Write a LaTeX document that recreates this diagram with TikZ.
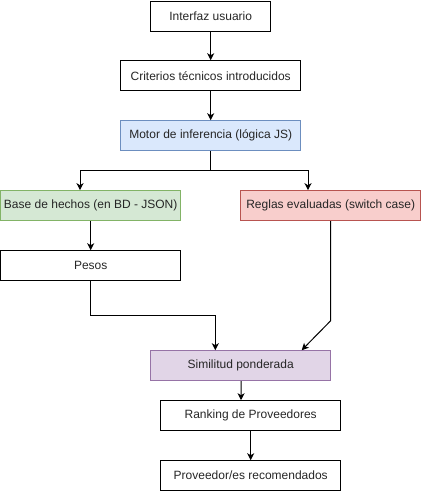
\documentclass[tikz,border=0pt]{standalone}
\usepackage{fontspec}
\setmainfont{Liberation Sans}
\usetikzlibrary{arrows.meta,calc}
\definecolor{bluef}{HTML}{DAE8FC}
\definecolor{blued}{HTML}{6C8EBF}
\definecolor{greenf}{HTML}{D5E8D4}
\definecolor{greend}{HTML}{82B366}
\definecolor{redf}{HTML}{F8CECC}
\definecolor{redd}{HTML}{B85450}
\definecolor{purplef}{HTML}{E1D5E7}
\definecolor{purpled}{HTML}{9673A6}
\begin{document}
\begin{tikzpicture}[x=1pt,y=-1pt,
  box/.style={draw, line width=1pt, minimum height=30pt, minimum width=180pt, inner sep=0pt,
    font=\fontsize{12}{14}\selectfont, text=black!85},
  bluebox/.style={box, fill=bluef, draw=blued},
  greenbox/.style={box, fill=greenf, draw=greend},
  redbox/.style={box, fill=redf, draw=redd},
  purplebox/.style={box, fill=purplef, draw=purpled},
  arr/.style={-{Stealth[length=7pt,width=7pt,inset=2pt]}, line width=1pt}]
\useasboundingbox (0,0) rectangle (421,491);
\node[box, minimum width=120pt] (ui) at (210.7,16) {Interfaz usuario};
\node[box] (crit) at (210.7,75.7) {Criterios técnicos introducidos};
\node[bluebox] (motor) at (210.7,135.7) {Motor de inferencia (lógica JS)};
\node[greenbox] (base) at (90.7,205.7) {Base de hechos (en BD - JSON)};
\node[redbox] (reglas) at (330.7,205.7) {Reglas evaluadas (switch case)};
\node[box] (pesos) at (90.7,265.7) {Pesos};
\node[purplebox] (sim) at (240.7,365.7) {Similitud ponderada};
\node[box] (rank) at (250.7,415.7) {Ranking de Proveedores};
\node[box] (prov) at (250.7,475.7) {Proveedor/es recomendados};
\coordinate (split) at (210.7,170);
\draw[arr] (ui) -- (crit);
\draw[arr] (crit) -- (motor);
\draw[arr] (motor.south) -- (split) -| ([xshift=-10.7pt]base.north);
\draw[arr] (split) -| ([xshift=-22.7pt]reglas.north);
\draw[arr] (base) -- (pesos);
\draw[arr] (pesos.south) |- (215.3,315) -- ([xshift=-25.4pt]sim.north);
\draw[arr] (reglas.south) -- (330.7,320.7) -- ([xshift=61pt]sim.north);
\draw[arr] ([xshift=0.5pt]sim.south) -- ([xshift=-9.7pt]rank.north);
\draw[arr] (rank) -- (prov);
\end{tikzpicture}
\end{document}
